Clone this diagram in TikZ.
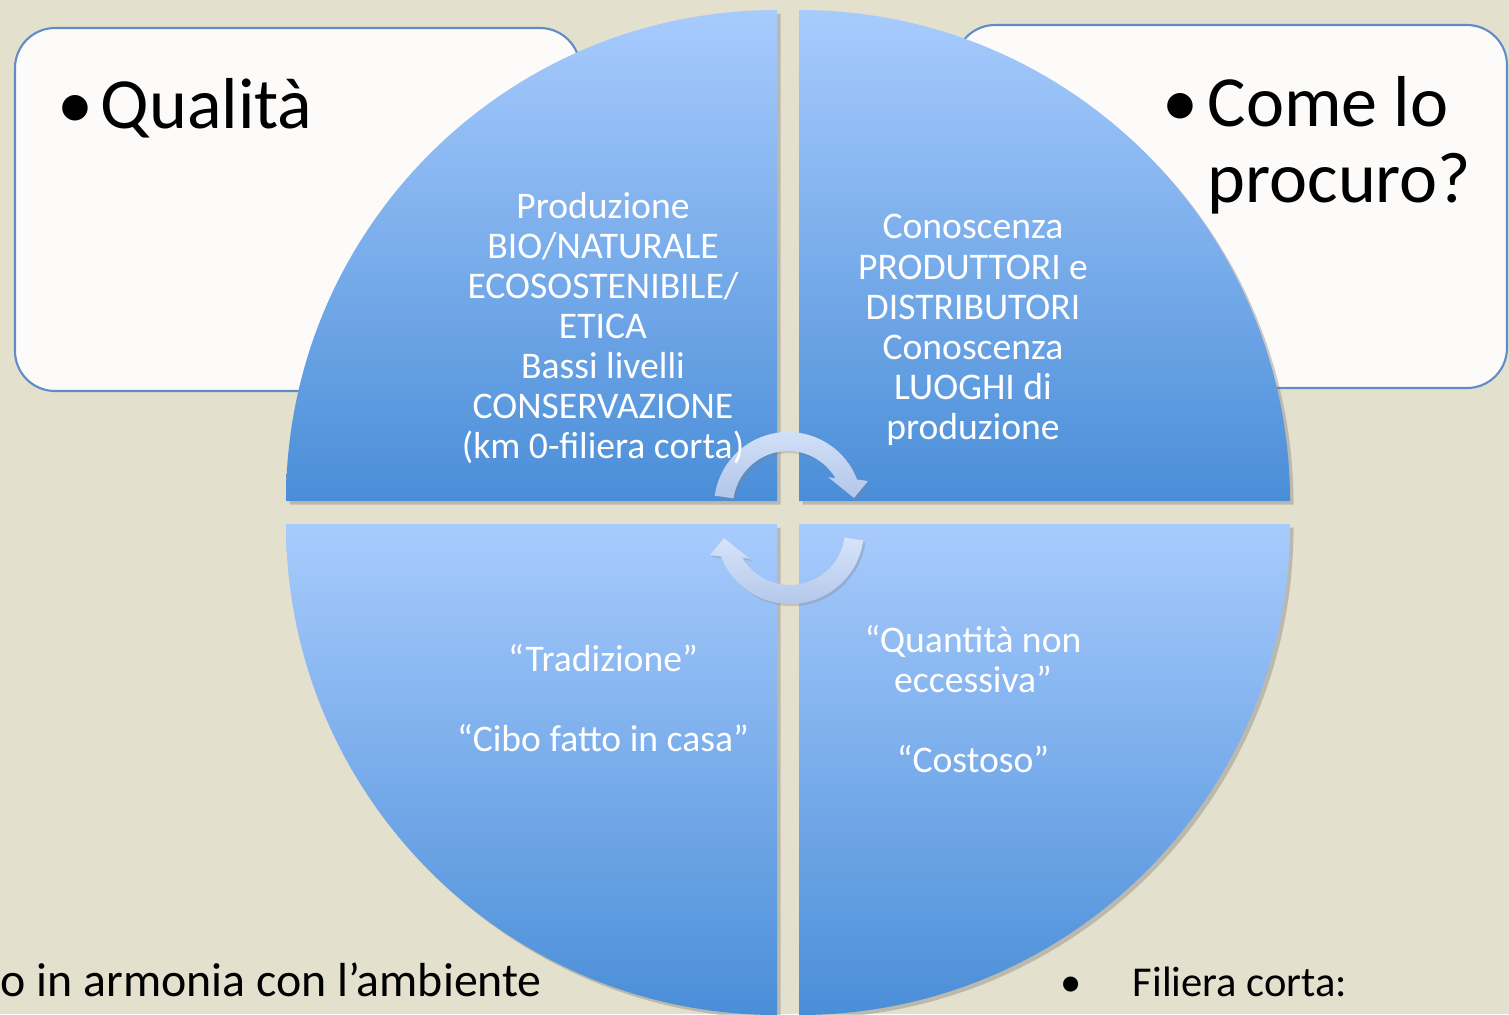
\documentclass[tikz,border=0pt]{standalone}
\usepackage{fontspec}
\setmainfont{Carlito}
\usetikzlibrary{shadows}
\tikzset{
  quadrant/.style={top color=quadtop, bottom color=quadbot, drop shadow={opacity=0.4, shadow xshift=1pt, shadow yshift=-1pt}},
  turnarrow/.style={top color=arrowtop, bottom color=arrowbot, drop shadow={opacity=0.3, shadow xshift=0.6pt, shadow yshift=-0.6pt}},
  headbox/.style={fill=boxfill, draw=boxline, line width=0.6pt, rounded corners=0.4cm},
  quadtext/.style={text=white, align=center, font=\fontsize{10.7}{11.4}\selectfont},
  bigtext/.style={font=\fontsize{20.5}{21.9}\selectfont, inner sep=0pt, anchor=base west},
  foottext/.style={inner sep=0pt, anchor=base west}
}
\begin{document}
\begin{tikzpicture}[x=0.01cm, y=0.01cm]
\definecolor{slidebg}{RGB}{227,224,206}
\definecolor{boxfill}{RGB}{252,251,249}
\definecolor{boxline}{RGB}{96,140,200}
\definecolor{quadtop}{RGB}{168,203,253}
\definecolor{quadbot}{RGB}{74,142,216}
\definecolor{arrowtop}{RGB}{214,228,250}
\definecolor{arrowbot}{RGB}{178,198,233}
\pgfmathsetmacro\rad{491}
\useasboundingbox (0,0) rectangle (1509,-1014);
\fill[slidebg] (0,0) rectangle (1509,-1014);
\clip (0,0) rectangle (1509,-1014);
\draw[headbox] (15,-28) rectangle (580,-391);
\draw[headbox] (955,-25) rectangle (1507,-388);
\node[bigtext] (qualita) at (57,-128) {\makebox[0.43cm][l]{•}Qualità};
\node[bigtext] (come) at (1162,-126) {\makebox[0.45cm][l]{•}Come lo};
\node[bigtext] (procuro) at (1207,-202) {procuro?};
\foreach \cx/\cy/\a in {777/501/90, 799/501/0, 777/524/180, 799/524/270}
  \path[quadrant] (\cx,-\cy) -- ++(\a:\rad) arc[start angle=\a, delta angle=90, radius=\rad] -- cycle;
\begin{scope}[shift={(788,-506)}]
\path[turnarrow] (172:55) arc[start angle=172, end angle=30, radius=55] -- (40,29) -- (66,8) -- (80,25) -- (21:74) arc[start angle=21, end angle=172, radius=74] -- cycle;
\end{scope}
\begin{scope}[shift={(790,-530)}]
\path[turnarrow] (-8:74) arc[start angle=-8, end angle=-159, radius=74] -- (-80,-25) -- (-66,-8) -- (-40,-29) -- (-150:55) arc[start angle=-150, end angle=-8, radius=55] -- cycle;
\end{scope}
\node[quadtext] (produzione) at (603,-328) {Produzione\\BIO/NATURALE\\ECOSOSTENIBILE/\\ETICA\\Bassi livelli\\CONSERVAZIONE\\(km 0-filiera corta)};
\node[quadtext] (conoscenza) at (973,-330) {Conoscenza\\PRODUTTORI e\\DISTRIBUTORI\\Conoscenza\\LUOGHI di\\produzione};
\node[quadtext] (tradizione) at (603,-698) {“Tradizione”\\[11.4pt]“Cibo fatto in casa”};
\node[quadtext] (quantita) at (973,-699) {“Quantità non\\eccessiva”\\[11.4pt]“Costoso”};
\node[foottext, font=\fontsize{13.6}{16}\selectfont] (armonia) at (0,-996) {o in armonia con l’ambiente};
\node[foottext, font=\fontsize{12.1}{14}\selectfont] (filiera) at (1060,-996) {\makebox[0.72cm][l]{•}Filiera corta:};
\end{tikzpicture}
\end{document}
